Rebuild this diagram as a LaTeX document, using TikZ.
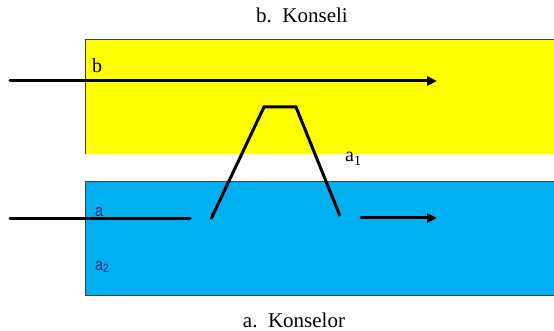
\documentclass[tikz,border=0pt]{standalone}
\usepackage{fontspec}
\setmainfont{Liberation Serif}
\newfontfamily\narrowsans{Liberation Sans}
\usetikzlibrary{arrows.meta}
\definecolor{yel}{RGB}{255,255,0}
\definecolor{sky}{RGB}{0,176,240}
\definecolor{navy}{RGB}{25,45,115}
\begin{document}
\begin{tikzpicture}[x=1pt,y=-1pt,
  band/.style={draw=black!75,line width=0.8pt},
  ray/.style={line width=3pt,line cap=round},
  rayarrow/.style={ray,-{Triangle[length=10pt,width=9pt]}},
  lbl/.style={font=\fontsize{20}{20}\selectfont,inner sep=0pt,anchor=base west},
  slbl/.style={font=\narrowsans\fontsize{17}{17}\selectfont,inner sep=0pt,anchor=base west,text=navy,xscale=0.85},
  ttl/.style={font=\fontsize{21}{21}\selectfont,inner sep=0pt,anchor=base}]
\useasboundingbox (0,0) rectangle (554,331);
% bands
\fill[yel] (85,39) rectangle (554,154);
\draw[band] (554,39) -- (85,39) -- (85,154);
\fill[sky] (85,181) rectangle (554,295);
\draw[band] (554,181) -- (85,181) -- (85,295) -- (554,295);
% titles
\node[ttl] (tb) at (302,23) {b.\ \ Konseli};
\node[ttl] (ta) at (294,327) {a.\ \ Konselor};
% labels
\node[lbl] (lb) at (92,73) {b};
\node[slbl] (la) at (95,216) {a};
\node[slbl] (la2) at (95,270) {a\textsubscript{2}};
\node[lbl] (la1) at (345,162) {a\textsubscript{1}};
% coordinates
\coordinate (b0) at (10,81);
\coordinate (b1) at (437,81);
\coordinate (a0) at (10,219);
\coordinate (a1) at (190,219);
\coordinate (t0) at (211,219);
\coordinate (t1) at (264,107);
\coordinate (t2) at (296,107);
\coordinate (t3) at (340,216);
\coordinate (r0) at (361,218);
\coordinate (r1) at (437,218);
% rays
\draw[rayarrow] (b0) -- (b1);
\draw[ray] (a0) -- (a1);
\draw[ray,line join=miter,line cap=butt] (t0) -- (t1) -- (t2) -- (t3);
\draw[rayarrow] (r0) -- (r1);
\end{tikzpicture}
\end{document}
